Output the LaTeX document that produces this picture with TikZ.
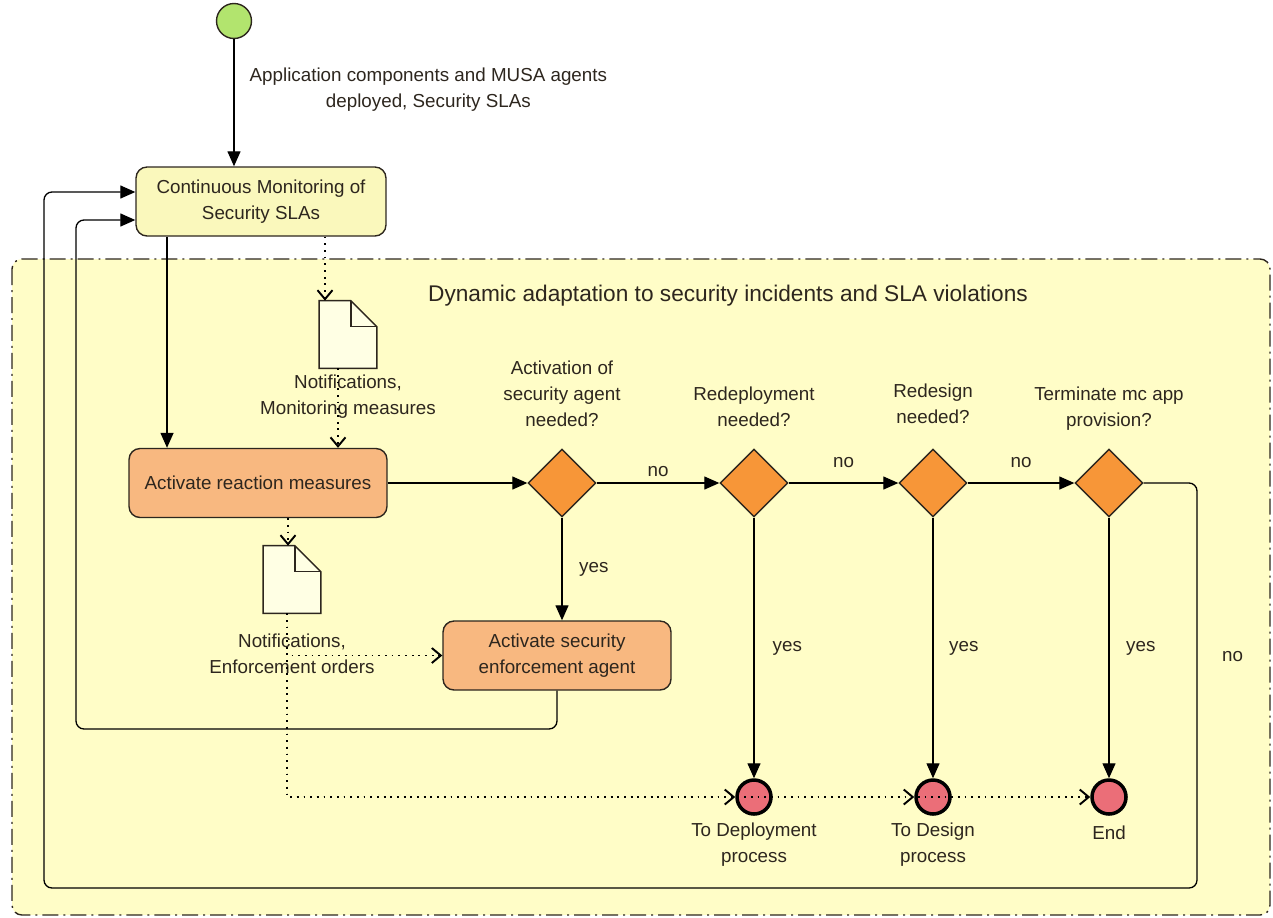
\documentclass[tikz,border=0pt]{standalone}
\usepackage{fontspec}
\setmainfont{Liberation Sans}
\usetikzlibrary{shapes.geometric,arrows.meta,positioning}

\definecolor{panelfill}{RGB}{255,253,199}
\definecolor{monfill}{RGB}{250,248,188}
\definecolor{actfill}{RGB}{248,184,128}
\definecolor{decfill}{RGB}{247,150,56}
\definecolor{endfill}{RGB}{235,110,120}
\definecolor{startfill}{RGB}{178,228,110}
\definecolor{docfill}{RGB}{255,255,228}
\definecolor{inkcol}{RGB}{45,38,30}

\begin{document}
\begin{tikzpicture}[x=0.02cm, y=-0.02cm,
    every node/.style={font=\fontsize{10.7pt}{14.8pt}\selectfont, text=inkcol},
    act/.style={draw=inkcol, line width=0.8pt, rounded corners=0.22cm, align=center,
                minimum height=1.38cm, inner sep=0pt},
    dec/.style={diamond, draw=inkcol, line width=0.8pt, fill=decfill,
                minimum size=1.36cm, inner sep=0pt},
    fin/.style={circle, draw=black, line width=2pt, fill=endfill,
                minimum size=0.68cm, inner sep=0pt},
    doc/.style={minimum width=1.14cm, minimum height=1.34cm, inner sep=0pt},
    docline/.style={draw=inkcol, line width=0.8pt, fill=docfill},
    lbl/.style={align=center, inner sep=0pt},
    flow/.style={draw=black, line width=0.75pt, -{Triangle[length=0.3cm,width=0.26cm]}},
    objflow/.style={draw=black, line width=1.1pt, dash pattern=on 1pt off 2.8pt,
                    -{Straight Barb[length=0.18cm,width=0.3cm]}}]

    \useasboundingbox (0,0) rectangle (1273,917);

    % dynamic adaptation region
    \draw[fill=panelfill, draw=inkcol, line width=0.8pt, rounded corners=0.2cm,
          dash pattern=on 0.32cm off 0.1cm on 0.04cm off 0.1cm] (12,259) rectangle (1270,915);
    \node[font=\fontsize{12.9pt}{16pt}\selectfont] (title) at (728,296)
        {Dynamic adaptation to security incidents and SLA violations};

    % activities
    \node[circle, draw=inkcol, line width=0.8pt, fill=startfill, minimum size=0.7cm, inner sep=0pt] (S) at (234,21) {};
    \node[act, fill=monfill, minimum width=5cm] (M) at (261,201.5) {Continuous Monitoring of\\Security SLAs};
    \node[act, fill=actfill, minimum width=5.16cm] (R) at (258,483) {Activate reaction measures};
    \node[act, fill=actfill, minimum width=4.56cm] (A) at (557,655.5) {Activate security\\enforcement agent};

    % decisions
    \node[dec] (Q1) at (562,483) {};
    \node[dec] (Q2) at (754,483) {};
    \node[dec] (Q3) at (933,483) {};
    \node[dec] (Q4) at (1109,483) {};
    \node[lbl, above=0.42cm of Q1] {Activation of\\security agent\\needed?};
    \node[lbl, above=0.42cm of Q2] {Redeployment\\needed?};
    \node[lbl, above=0.48cm of Q3] {Redesign\\needed?};
    \node[lbl, above=0.36cm of Q4] {Terminate mc app\\provision?};

    % final nodes
    \node[fin] (T1) at (754,797) {};
    \node[fin] (T2) at (933,797) {};
    \node[fin] (T3) at (1109,797) {};
    \node[lbl, below=0.14cm of T1] {To Deployment\\process};
    \node[lbl, below=0.14cm of T2] {To Design\\process};
    \node[lbl, below=0.2cm of T3] {End};

    % documents
    \node[doc] (N1) at (348,334.5) {};
    \draw[docline] (N1.south west) -- (N1.north west) -- ([xshift=-0.52cm]N1.north east)
        -- ([yshift=-0.52cm]N1.north east) -- (N1.south east) -- cycle;
    \draw[docline, fill=none] ([xshift=-0.52cm]N1.north east) |- ([yshift=-0.52cm]N1.north east);
    \node[lbl, below=0.12cm of N1] {Notifications,\\Monitoring measures};

    \node[doc] (N2) at (292,579.5) {};
    \draw[docline] (N2.south west) -- (N2.north west) -- ([xshift=-0.52cm]N2.north east)
        -- ([yshift=-0.52cm]N2.north east) -- (N2.south east) -- cycle;
    \draw[docline, fill=none] ([xshift=-0.52cm]N2.north east) |- ([yshift=-0.52cm]N2.north east);
    \node[lbl, below=0.4cm of N2] {Notifications,\\Enforcement orders};

    % control flow
    \draw[flow] (S) -- node[lbl, pos=0.4, right=0.3cm]
        {Application components and MUSA agents\\deployed, Security SLAs} (S |- M.north);
    \draw[flow] ([xshift=-1.88cm]M.south) -- ([xshift=-1.88cm]M.south |- R.north);
    \draw[flow] (R.east) -- (Q1.west);
    \draw[flow] (Q1.east) -- node[lbl, above=0.12cm] {no} (Q2.west);
    \draw[flow] (Q2.east) -- node[lbl, above=0.3cm] {no} (Q3.west);
    \draw[flow] (Q3.east) -- node[lbl, above=0.3cm] {no} (Q4.west);
    \draw[flow] (Q1.south) -- node[lbl, right=0.33cm] {yes} (Q1.south |- A.north);
    \draw[flow] (Q2.south) -- node[lbl, right=0.36cm] {yes} (T1.north);
    \draw[flow] (Q3.south) -- node[lbl, right=0.31cm] {yes} (T2.north);
    \draw[flow] (Q4.south) -- node[lbl, right=0.33cm] {yes} (T3.north);
    \draw[flow, rounded corners=0.16cm] (A.south) |- (76,729) |- ([yshift=-0.37cm]M.west);
    \draw[flow, rounded corners=0.16cm] (Q4.east) -| node[lbl, pos=0.714, right=0.49cm] {no} (1197,888)
        -| (44,192) -- ([yshift=0.19cm]M.west);

    % object flow
    \draw[objflow] ([xshift=1.28cm]M.south) -- ([xshift=1.28cm]M.south |- N1.north);
    \draw[objflow] ([xshift=-0.2cm]N1.south) -- ([xshift=-0.2cm]N1.south |- R.north);
    \draw[objflow] ([xshift=0.6cm]R.south) -- ([xshift=0.6cm]R.south |- N2.north);
    \draw[objflow] ([xshift=-0.1cm]N2.south) |- (A.west);
    \draw[objflow] ([xshift=-0.1cm]N2.south) |- (T1.west);
    \draw[objflow] ([xshift=-0.1cm]N2.south) |- (T2.west);
    \draw[objflow] ([xshift=-0.1cm]N2.south) |- (T3.west);
\end{tikzpicture}
\end{document}
